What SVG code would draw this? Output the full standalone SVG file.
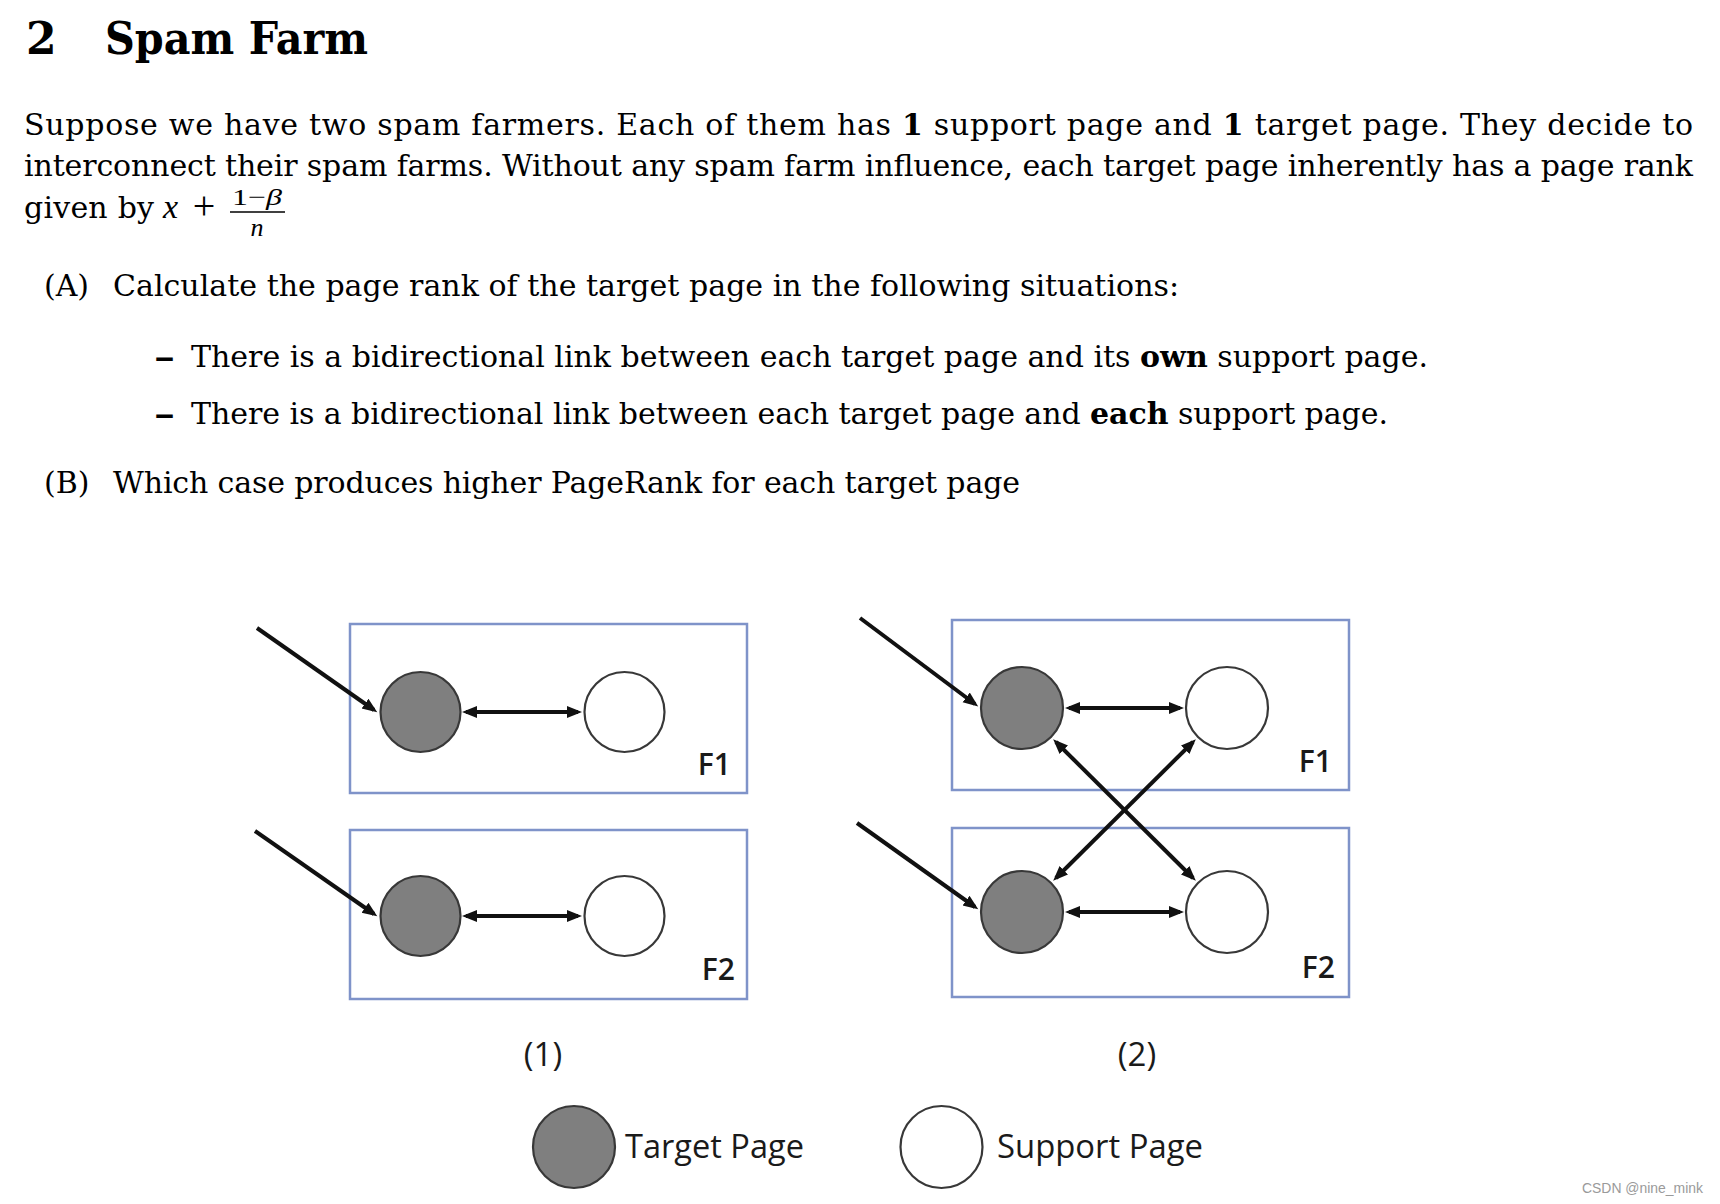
<svg xmlns="http://www.w3.org/2000/svg" width="1720" height="1204" viewBox="0 0 1720 1204">
<style>
.body{font-family:"DejaVu Serif","Liberation Serif",serif;font-size:30px;fill:#000}
.b{font-weight:bold}
.math{font-family:"Liberation Serif","DejaVu Serif",serif;fill:#000}
.it{font-style:italic}
.lbl{font-family:"Open Sans","Liberation Sans",sans-serif;fill:#1a1a1a;font-weight:600}
.box{fill:none;stroke:#7f93c9;stroke-width:2.5}
.tgt{fill:#7f7f7f;stroke:#383838;stroke-width:2.2}
.sup{fill:#fff;stroke:#383838;stroke-width:2.2}
.ln{stroke:#111;stroke-width:4;fill:none}
.one{marker-end:url(#ah)}
.two{marker-start:url(#ah);marker-end:url(#ah)}
</style>
<defs>
<marker id="ah" markerUnits="userSpaceOnUse" markerWidth="16" markerHeight="14" refX="11" refY="7" orient="auto-start-reverse">
<path d="M0,1 L15,7 L0,13 z" fill="#111"/>
</marker>
</defs>
<rect width="1720" height="1204" fill="#fff"/>

<g id="title">
<text x="26" y="54" class="body b" style="font-size:44px">2</text>
<text x="105" y="54" class="body b" style="font-size:44px" textLength="263" lengthAdjust="spacingAndGlyphs">Spam Farm</text>
</g>

<g id="paragraph">
<text x="24" y="135" class="body" textLength="1669" lengthAdjust="spacing">Suppose we have two spam farmers. Each of them has <tspan class="b">1</tspan> support page and <tspan class="b">1</tspan> target page. They decide to</text>
<text x="24" y="176" class="body" textLength="1669" lengthAdjust="spacing">interconnect their spam farms. Without any spam farm influence, each target page inherently has a page rank</text>
<text x="24" y="218" class="body" textLength="130" lengthAdjust="spacing">given by</text>
<text x="163" y="218" class="math it" style="font-size:34px">x</text>
<text x="204" y="219" class="math" style="font-size:40px" text-anchor="middle">+</text>
<text x="257" y="205" class="math" style="font-size:24px" text-anchor="middle" textLength="50" lengthAdjust="spacingAndGlyphs">1−<tspan class="it">β</tspan></text>
<line x1="230" y1="212" x2="285" y2="212" stroke="#000" stroke-width="1.4"/>
<text x="257" y="236" class="math it" style="font-size:26px" text-anchor="middle">n</text>
</g>

<g id="questions">
<text x="44" y="296" class="body">(A)</text>
<text x="113" y="296" class="body" textLength="1066" lengthAdjust="spacing">Calculate the page rank of the target page in the following situations:</text>
<text x="154" y="367" class="body b" textLength="21" lengthAdjust="spacingAndGlyphs">–</text>
<text x="191" y="367" class="body" textLength="1237" lengthAdjust="spacing">There is a bidirectional link between each target page and its <tspan class="b">own</tspan> support page.</text>
<text x="154" y="424" class="body b" textLength="21" lengthAdjust="spacingAndGlyphs">–</text>
<text x="191" y="424" class="body" textLength="1197" lengthAdjust="spacing">There is a bidirectional link between each target page and <tspan class="b">each</tspan> support page.</text>
<text x="44" y="493" class="body">(B)</text>
<text x="113" y="493" class="body" textLength="907" lengthAdjust="spacing">Which case produces higher PageRank for each target page</text>
</g>

<g id="farm1-F1">
<rect class="box" x="350" y="624" width="397" height="169"/>
<text class="lbl" x="731" y="775" text-anchor="end" style="font-size:30px">F1</text>
</g>
<g id="farm1-F2">
<rect class="box" x="350" y="830" width="397" height="169"/>
<text class="lbl" x="735" y="980" text-anchor="end" style="font-size:30px">F2</text>
</g>
<g id="farm2-F1">
<rect class="box" x="952" y="620" width="397" height="170"/>
<text class="lbl" x="1332" y="772" text-anchor="end" style="font-size:30px">F1</text>
</g>
<g id="farm2-F2">
<rect class="box" x="952" y="828" width="397" height="169"/>
<text class="lbl" x="1335" y="978" text-anchor="end" style="font-size:30px">F2</text>
</g>

<g id="d1-target-F1"><circle class="tgt" cx="420.5" cy="712" r="40"/></g>
<g id="d1-support-F1"><circle class="sup" cx="624.5" cy="712" r="40"/></g>
<g id="d1-target-F2"><circle class="tgt" cx="420.5" cy="916" r="40"/></g>
<g id="d1-support-F2"><circle class="sup" cx="624.5" cy="916" r="40"/></g>

<g id="d2-target-F1"><circle class="tgt" cx="1022" cy="708" r="41"/></g>
<g id="d2-support-F1"><circle class="sup" cx="1227" cy="708" r="41"/></g>
<g id="d2-target-F2"><circle class="tgt" cx="1022" cy="912" r="41"/></g>
<g id="d2-support-F2"><circle class="sup" cx="1227" cy="912" r="41"/></g>

<g id="connectors">
<line class="ln one" x1="257" y1="628" x2="374" y2="710"/>
<line class="ln two" x1="466" y1="712" x2="578" y2="712"/>
<line class="ln one" x1="255" y1="831" x2="374" y2="914"/>
<line class="ln two" x1="466" y1="916" x2="578" y2="916"/>

<line class="ln one" x1="860" y1="618" x2="975" y2="704"/>
<line class="ln one" x1="857" y1="823" x2="975" y2="907"/>
<line class="ln two" x1="1069" y1="708" x2="1180" y2="708"/>
<line class="ln two" x1="1069" y1="912" x2="1180" y2="912"/>
<line class="ln two" x1="1056" y1="742" x2="1193" y2="878"/>
<line class="ln two" x1="1056" y1="878" x2="1193" y2="742"/>
</g>

<g id="captions">
<text class="lbl" x="543" y="1066" text-anchor="middle" style="font-size:33px;font-weight:normal">(1)</text>
<text class="lbl" x="1137" y="1066" text-anchor="middle" style="font-size:33px;font-weight:normal">(2)</text>
</g>

<g id="legend-target">
<circle class="tgt" cx="574" cy="1147" r="41"/>
<text class="lbl" x="625" y="1158" style="font-size:33px;font-weight:normal" textLength="179" lengthAdjust="spacingAndGlyphs">Target Page</text>
</g>
<g id="legend-support">
<circle class="sup" cx="941.5" cy="1147" r="41"/>
<text class="lbl" x="997" y="1158" style="font-size:33px;font-weight:normal" textLength="206" lengthAdjust="spacingAndGlyphs">Support Page</text>
</g>

<text x="1582" y="1193" style="font-family:'Liberation Sans',Arial,sans-serif;font-size:14px;fill:#9a9a9a" textLength="121" lengthAdjust="spacingAndGlyphs">CSDN @nine_mink</text>
</svg>
